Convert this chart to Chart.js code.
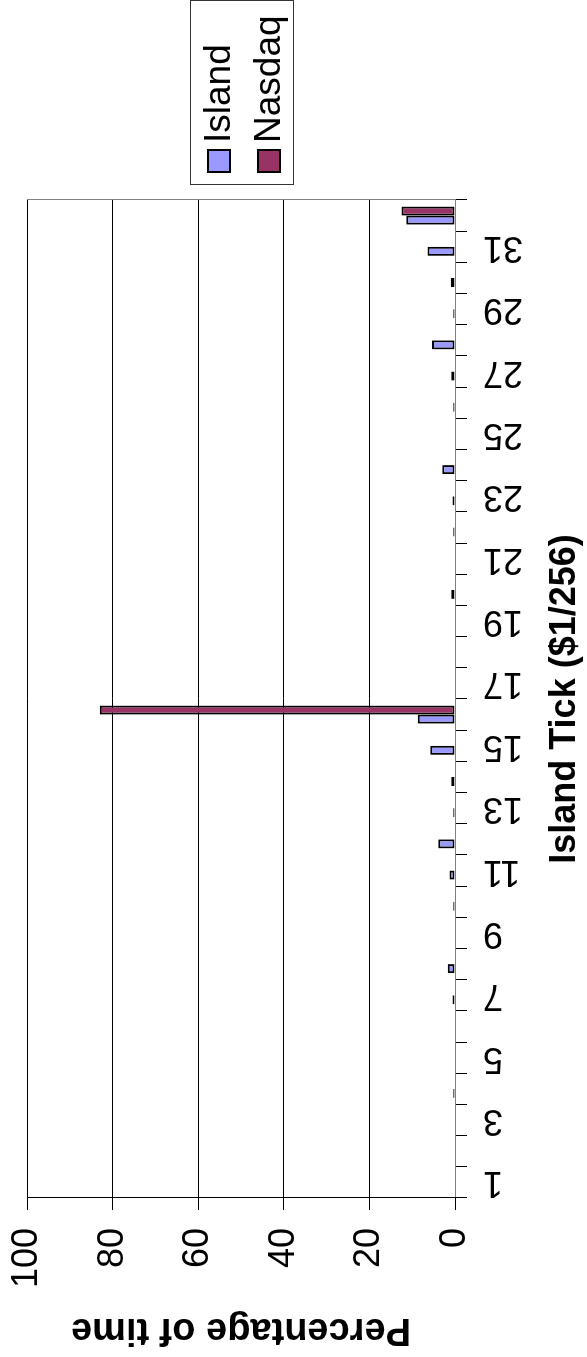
<!DOCTYPE html>
<html>
<head>
<meta charset="utf-8">
<script src="https://cdn.jsdelivr.net/npm/chart.js@4"></script>
<style>
    html, body { margin: 0; padding: 0; background: #fff; overflow: hidden; }
    /* the chart is drawn landscape and then turned a quarter left */
    #wrap {
        position: absolute; left: 0; top: 0;
        width: 1357px; height: 587px;
        transform-origin: 0 0;
        transform: translateY(1357px) rotate(-90deg);
    }
</style>
</head>
<body>
<div id="wrap"><canvas id="tickChart" width="1357" height="587"></canvas></div>
<script>
const categories = [
    "1", "2", "3", "4", "5", "6", "7", "8", "9", "10", "11", "12", "13", "14", "15", "16",
    "17", "18", "19", "20", "21", "22", "23", "24", "25", "26", "27", "28", "29", "30", "31", "32"
];
const tickLabels = ["1", "3", "5", "7", "9", "11", "13", "15", "17", "19", "21", "23", "25", "27", "29", "31"];

const island = [
    0, 0, 0, 0.4, 0, 0, 0.6, 1.7, 0, 0.4, 1.3, 3.9, 0.4, 0.9, 5.8, 8.7,
    0, 0, 0, 0.9, 0, 0.4, 0.6, 3.0, 0, 0.4, 0.9, 5.4, 0.4, 1.0, 6.4, 11.4
];
const nasdaq = [
    0, 0, 0, 0, 0, 0, 0, 0, 0, 0, 0, 0, 0, 0, 0, 83,
    0, 0, 0, 0, 0, 0, 0, 0, 0, 0, 0, 0, 0, 0, 0, 12.5
];

const FONT = "'Liberation Sans', Arial, sans-serif";

// grey frame round the plot + boxed legend like the Excel original
const frameAndLegend = {
    id: "frameAndLegend",
    beforeDraw(chart) {
        const { ctx, chartArea: a } = chart;
        ctx.save();
        ctx.strokeStyle = "#808080";
        ctx.lineWidth = 1;
        ctx.strokeRect(a.left + 0.5, a.top + 0.5, a.right - a.left, a.bottom - a.top);
        ctx.restore();
    },
    afterDraw(chart) {
        const ctx = chart.ctx;
        ctx.save();
        ctx.strokeStyle = "#333";
        ctx.lineWidth = 1;
        ctx.strokeRect(1172.5, 190.5, 184, 103);
        ctx.font = "37px " + FONT;
        ctx.textBaseline = "alphabetic";
        chart.data.datasets.forEach((ds, i) => {
            const y = 207 + i * 50;
            ctx.fillStyle = ds.backgroundColor;
            ctx.fillRect(1184, y, 24, 24);
            ctx.strokeStyle = "#000";
            ctx.lineWidth = 2;
            ctx.strokeRect(1185, y + 1, 22, 22);
            ctx.fillStyle = "#000";
            ctx.fillText(ds.label, 1214, y + 23);
        });
        ctx.restore();
    }
};

new Chart(document.getElementById("tickChart"), {
    type: "bar",
    data: {
        labels: categories,
        datasets: [{
            label: "Island",
            data: island,
            backgroundColor: "#9999FF",
            borderColor: "#000",
            borderWidth: 2,
            borderSkipped: false
        }, {
            label: "Nasdaq",
            data: nasdaq,
            backgroundColor: "#993366",
            borderColor: "#000",
            borderWidth: 2,
            borderSkipped: false
        }]
    },
    options: {
        responsive: false,
        animation: false,
        devicePixelRatio: 1,
        categoryPercentage: 0.58,
        barPercentage: 1.0,
        layout: { padding: { top: 27, right: 200, left: 0, bottom: 0 } },
        scales: {
            x: {
                afterFit: s => { s.height = 132; },
                grid: {
                    drawOnChartArea: false,
                    color: "#000",
                    tickLength: 12,
                    offset: true
                },
                border: { color: "#808080" },
                ticks: {
                    autoSkip: false,
                    minRotation: 90,
                    maxRotation: 90,
                    padding: 16,
                    color: "#000",
                    font: { family: FONT, size: 36 },
                    callback: function (v) {
                        const lab = this.getLabelForValue(v);
                        return tickLabels.includes(lab) ? lab : "";
                    }
                },
                title: {
                    display: true,
                    text: "Island Tick ($1/256)",
                    color: "#000",
                    font: { family: FONT, size: 36, weight: "bold" },
                    padding: { top: 0, bottom: 0 }
                }
            },
            y: {
                min: 0,
                max: 100,
                afterFit: s => {
                    s.width = 159;
                    s.paddingTop = 0;
                    s.paddingBottom = 0;
                },
                grid: {
                    color: c => (c.tick && c.tick.value === 0 ? "#808080" : "#000"),
                    tickColor: "#000",
                    tickLength: 12
                },
                border: { color: "#000" },
                ticks: {
                    stepSize: 20,
                    padding: 18,
                    color: "#000",
                    font: { family: FONT, size: 36 }
                },
                title: {
                    display: true,
                    text: "Percentage of time",
                    color: "#000",
                    font: { family: FONT, size: 38, weight: "bold" },
                    padding: { top: 5, bottom: 0 }
                }
            }
        },
        plugins: {
            legend: { display: false },
            tooltip: { enabled: false }
        }
    },
    plugins: [frameAndLegend]
});
</script>
</body>
</html>
